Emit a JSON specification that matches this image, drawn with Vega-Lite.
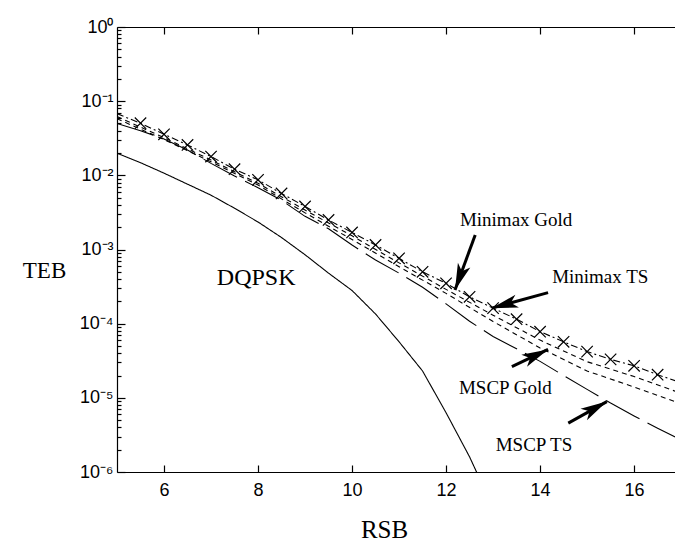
{
  "$schema": "https://vega.github.io/schema/vega-lite/v6.json",
  "width": 558,
  "height": 445,
  "autosize": {"type": "none"},
  "padding": {"left": 117, "top": 27, "right": 0, "bottom": 78},
  "background": "white",
  "config": {
    "view": {"stroke": null},
    "axis": {"grid": false, "domainColor": "black", "domainWidth": 1.2, "tickColor": "black", "tickWidth": 1.2, "labelColor": "black", "titleColor": "black"}
  },
  "datasets": {
    "lines": [
      {"series": "Minimax TS", "x": 5, "v": 0.068},
      {"series": "Minimax TS", "x": 5.5, "v": 0.0504},
      {"series": "Minimax TS", "x": 6, "v": 0.0358},
      {"series": "Minimax TS", "x": 6.5, "v": 0.0257},
      {"series": "Minimax TS", "x": 7, "v": 0.0179},
      {"series": "Minimax TS", "x": 7.5, "v": 0.0121},
      {"series": "Minimax TS", "x": 8, "v": 0.0087},
      {"series": "Minimax TS", "x": 8.5, "v": 0.0057},
      {"series": "Minimax TS", "x": 9, "v": 0.0038},
      {"series": "Minimax TS", "x": 9.5, "v": 0.0025},
      {"series": "Minimax TS", "x": 10, "v": 0.0017},
      {"series": "Minimax TS", "x": 10.5, "v": 0.00115},
      {"series": "Minimax TS", "x": 11, "v": 0.00076},
      {"series": "Minimax TS", "x": 11.5, "v": 0.0005},
      {"series": "Minimax TS", "x": 12, "v": 0.00035},
      {"series": "Minimax TS", "x": 12.5, "v": 0.00023},
      {"series": "Minimax TS", "x": 13, "v": 0.000162},
      {"series": "Minimax TS", "x": 13.5, "v": 0.000115},
      {"series": "Minimax TS", "x": 14, "v": 7.8e-5},
      {"series": "Minimax TS", "x": 14.5, "v": 5.7e-5},
      {"series": "Minimax TS", "x": 15, "v": 4.2e-5},
      {"series": "Minimax TS", "x": 15.5, "v": 3.3e-5},
      {"series": "Minimax TS", "x": 16, "v": 2.7e-5},
      {"series": "Minimax TS", "x": 16.5, "v": 2.05e-5},
      {"series": "Minimax TS", "x": 17, "v": 1.6e-5},
      {"series": "Minimax Gold", "x": 5, "v": 0.062},
      {"series": "Minimax Gold", "x": 6, "v": 0.0322},
      {"series": "Minimax Gold", "x": 7, "v": 0.0161},
      {"series": "Minimax Gold", "x": 8, "v": 0.0078},
      {"series": "Minimax Gold", "x": 9, "v": 0.0034},
      {"series": "Minimax Gold", "x": 10, "v": 0.00153},
      {"series": "Minimax Gold", "x": 11, "v": 0.00066},
      {"series": "Minimax Gold", "x": 12, "v": 0.00029},
      {"series": "Minimax Gold", "x": 13, "v": 0.00013},
      {"series": "Minimax Gold", "x": 14, "v": 6.0e-5},
      {"series": "Minimax Gold", "x": 15, "v": 3.07e-5},
      {"series": "Minimax Gold", "x": 16, "v": 1.94e-5},
      {"series": "Minimax Gold", "x": 17, "v": 1.15e-5},
      {"series": "MSCP Gold", "x": 5, "v": 0.058},
      {"series": "MSCP Gold", "x": 6, "v": 0.0304},
      {"series": "MSCP Gold", "x": 7, "v": 0.0152},
      {"series": "MSCP Gold", "x": 8, "v": 0.0074},
      {"series": "MSCP Gold", "x": 9, "v": 0.00312},
      {"series": "MSCP Gold", "x": 10, "v": 0.00136},
      {"series": "MSCP Gold", "x": 11, "v": 0.000585},
      {"series": "MSCP Gold", "x": 12, "v": 0.000256},
      {"series": "MSCP Gold", "x": 13, "v": 0.000107},
      {"series": "MSCP Gold", "x": 14, "v": 4.7e-5},
      {"series": "MSCP Gold", "x": 15, "v": 2.3e-5},
      {"series": "MSCP Gold", "x": 16, "v": 1.4e-5},
      {"series": "MSCP Gold", "x": 17, "v": 8.3e-6},
      {"series": "MSCP TS", "x": 5, "v": 0.05},
      {"series": "MSCP TS", "x": 5.5, "v": 0.04},
      {"series": "MSCP TS", "x": 6, "v": 0.031},
      {"series": "MSCP TS", "x": 6.5, "v": 0.022},
      {"series": "MSCP TS", "x": 7, "v": 0.0145},
      {"series": "MSCP TS", "x": 7.5, "v": 0.0098},
      {"series": "MSCP TS", "x": 8, "v": 0.0068},
      {"series": "MSCP TS", "x": 8.5, "v": 0.0046},
      {"series": "MSCP TS", "x": 9, "v": 0.0028},
      {"series": "MSCP TS", "x": 9.5, "v": 0.0019},
      {"series": "MSCP TS", "x": 10, "v": 0.00115},
      {"series": "MSCP TS", "x": 10.5, "v": 0.00072},
      {"series": "MSCP TS", "x": 11, "v": 0.00048},
      {"series": "MSCP TS", "x": 11.5, "v": 0.00031},
      {"series": "MSCP TS", "x": 12, "v": 0.000185},
      {"series": "MSCP TS", "x": 12.5, "v": 0.000108},
      {"series": "MSCP TS", "x": 13, "v": 6.7e-5},
      {"series": "MSCP TS", "x": 13.5, "v": 4.6e-5},
      {"series": "MSCP TS", "x": 14, "v": 3.1e-5},
      {"series": "MSCP TS", "x": 14.5, "v": 2.0e-5},
      {"series": "MSCP TS", "x": 15, "v": 1.3e-5},
      {"series": "MSCP TS", "x": 15.5, "v": 8.5e-6},
      {"series": "MSCP TS", "x": 16, "v": 5.7e-6},
      {"series": "MSCP TS", "x": 16.5, "v": 3.9e-6},
      {"series": "MSCP TS", "x": 17, "v": 2.7e-6},
      {"series": "DQPSK", "x": 5, "v": 0.0199},
      {"series": "DQPSK", "x": 5.5, "v": 0.0148},
      {"series": "DQPSK", "x": 6, "v": 0.0107},
      {"series": "DQPSK", "x": 6.5, "v": 0.0076},
      {"series": "DQPSK", "x": 7, "v": 0.0054},
      {"series": "DQPSK", "x": 7.5, "v": 0.0036},
      {"series": "DQPSK", "x": 8, "v": 0.00235},
      {"series": "DQPSK", "x": 8.5, "v": 0.00145},
      {"series": "DQPSK", "x": 9, "v": 0.00085},
      {"series": "DQPSK", "x": 9.5, "v": 0.00048},
      {"series": "DQPSK", "x": 10, "v": 0.00028},
      {"series": "DQPSK", "x": 10.5, "v": 0.000135},
      {"series": "DQPSK", "x": 11, "v": 5.7e-5},
      {"series": "DQPSK", "x": 11.5, "v": 2.3e-5},
      {"series": "DQPSK", "x": 12, "v": 6.3e-6},
      {"series": "DQPSK", "x": 12.5, "v": 1.6e-6},
      {"series": "DQPSK", "x": 12.7, "v": 8.5e-7}
    ],
    "arrows": [
      {"name": "Minimax Gold", "x1": 12.62, "v1": 0.00157, "x2": 12.19, "v2": 0.000285},
      {"name": "Minimax TS", "x1": 14.17, "v1": 0.000262, "x2": 12.97, "v2": 0.000162},
      {"name": "MSCP Gold", "x1": 13.4, "v1": 2.64e-5, "x2": 14.17, "v2": 4.5e-5},
      {"name": "MSCP TS", "x1": 14.6, "v1": 4.56e-6, "x2": 15.42, "v2": 8.9e-6}
    ],
    "labels": [
      {"label": "DQPSK", "x": 7.96, "v": 0.000414, "big": true},
      {"label": "Minimax Gold", "x": 13.49, "v": 0.0025, "big": false},
      {"label": "Minimax TS", "x": 15.28, "v": 0.000427, "big": false},
      {"label": "MSCP Gold", "x": 13.26, "v": 1.36e-5, "big": false},
      {"label": "MSCP TS", "x": 13.87, "v": 2.33e-6, "big": false}
    ]
  },
  "layer": [
    {
      "data": {"name": "lines"},
      "mark": {"type": "line", "clip": true, "color": "black", "strokeWidth": 1.1},
      "encoding": {
        "x": {
          "field": "x", "type": "quantitative",
          "scale": {"domain": [5, 16.87], "nice": false, "zero": false},
          "axis": {
            "orient": "bottom", "values": [6, 8, 10, 12, 14, 16], "ticks": false,
            "labelPadding": 9, "labelFont": "Liberation Sans", "labelFontSize": 18, "labelBaseline": "top",
            "title": "RSB", "titleFont": "Liberation Serif", "titleFontSize": 25, "titleFontWeight": "normal",
            "titleX": 267, "titleY": 57, "titleBaseline": "middle", "titleAlign": "center"
          }
        },
        "y": {
          "field": "v", "type": "quantitative",
          "scale": {"type": "log", "domain": [1e-6, 1], "nice": false},
          "axis": {
            "orient": "left",
            "values": [1e-6, 1e-5, 0.0001, 0.001, 0.01, 0.1, 1],
            "ticks": false,
            "labelPadding": 4,
            "labelFont": "Liberation Sans", "labelFontSize": 18, "labelBaseline": "middle",
            "labelExpr": "datum.value > 0.5 ? '10⁰' : datum.value > 0.05 ? '10⁻¹' : datum.value > 0.005 ? '10⁻²' : datum.value > 0.0005 ? '10⁻³' : datum.value > 0.00005 ? '10⁻⁴' : datum.value > 0.000005 ? '10⁻⁵' : '10⁻⁶'",
            "title": "TEB", "titleFont": "Liberation Serif", "titleFontSize": 23, "titleFontWeight": "normal",
            "titleAngle": 0, "titleX": -73, "titleY": 243, "titleAlign": "center", "titleBaseline": "middle"
          }
        },
        "strokeDash": {
          "field": "series", "type": "nominal",
          "scale": {"domain": ["Minimax TS", "Minimax Gold", "MSCP Gold", "MSCP TS", "DQPSK"], "range": [[7, 3, 2, 3], [5, 4], [5, 4], [38, 9], [1, 0]]},
          "legend": null
        }
      }
    },
    {
      "data": {"name": "lines"},
      "transform": [{"filter": "datum.series == 'Minimax TS' && datum.x > 5.2 && datum.x < 16.8"}],
      "mark": {"type": "point", "shape": "M-1,-1L1,1M-1,1L1,-1", "filled": false, "color": "black", "strokeWidth": 1.2, "size": 130, "clip": true, "opacity": 1},
      "encoding": {
        "x": {
          "field": "x", "type": "quantitative",
          "axis": {"orient": "bottom", "values": [6, 8, 10, 12, 14, 16], "domain": false, "labels": false, "tickSize": 7, "offset": -7, "title": null}
        },
        "y": {
          "field": "v", "type": "quantitative",
          "axis": {"orient": "left", "values": [1e-6, 1e-5, 0.0001, 0.001, 0.01, 0.1, 1], "domain": false, "labels": false, "tickSize": 8, "offset": -8, "title": null}
        }
      }
    },
    {
      "data": {"name": "arrows"},
      "mark": {"type": "rule", "color": "black", "strokeWidth": 3, "strokeCap": "butt"},
      "encoding": {
        "x": {
          "field": "x1", "type": "quantitative",
          "axis": {"orient": "top", "values": [6, 8, 10, 12, 14, 16], "domain": true, "ticks": false, "labels": false, "title": null}
        },
        "y": {
          "field": "v1", "type": "quantitative",
          "axis": {"orient": "left", "values": [2e-6, 3e-6, 4e-6, 5e-6, 6e-6, 7e-6, 8e-6, 9e-6, 2e-5, 3e-5, 4e-5, 5e-5, 6e-5, 7e-5, 8e-5, 9e-5, 0.0002, 0.0003, 0.0004, 0.0005, 0.0006, 0.0007, 0.0008, 0.0009, 0.002, 0.003, 0.004, 0.005, 0.006, 0.007, 0.008, 0.009, 0.02, 0.03, 0.04, 0.05, 0.06, 0.07, 0.08, 0.09, 0.2, 0.3, 0.4, 0.5, 0.6, 0.7, 0.8, 0.9], "domain": false, "labels": false, "tickSize": 4, "offset": -4, "title": null}
        },
        "x2": {"field": "x2"},
        "y2": {"field": "v2"}
      }
    },
    {
      "data": {"name": "arrows"},
      "transform": [{"calculate": "atan2((log(datum.v1) - log(datum.v2)) / LN10 * 74.2, (datum.x2 - datum.x1) * 47) * 180 / PI", "as": "ang"}],
      "mark": {"type": "point", "shape": "M0,0L-2,-0.5L-1.5,0L-2,0.5Z", "filled": true, "color": "black", "size": 700, "opacity": 1},
      "encoding": {
        "x": {
          "field": "x2", "type": "quantitative",
          "axis": {"orient": "top", "values": [6, 8, 10, 12, 14, 16], "domain": false, "labels": false, "tickSize": 7, "offset": -7, "title": null}
        },
        "y": {"field": "v2", "type": "quantitative", "axis": null},
        "angle": {"field": "ang", "type": "quantitative", "scale": null}
      }
    },
    {
      "data": {"name": "labels"},
      "transform": [{"filter": "!datum.big"}],
      "mark": {"type": "text", "font": "Liberation Serif", "fontSize": 19, "color": "black", "align": "center", "baseline": "middle"},
      "encoding": {
        "x": {"field": "x", "type": "quantitative", "axis": null},
        "y": {"field": "v", "type": "quantitative", "axis": null},
        "text": {"field": "label"}
      }
    },
    {
      "data": {"name": "labels"},
      "transform": [{"filter": "datum.big"}],
      "mark": {"type": "text", "font": "Liberation Serif", "fontSize": 24, "color": "black", "align": "center", "baseline": "middle"},
      "encoding": {
        "x": {"field": "x", "type": "quantitative", "axis": null},
        "y": {"field": "v", "type": "quantitative", "axis": null},
        "text": {"field": "label"}
      }
    }
  ],
  "resolve": {"axis": {"x": "independent", "y": "independent"}}
}
